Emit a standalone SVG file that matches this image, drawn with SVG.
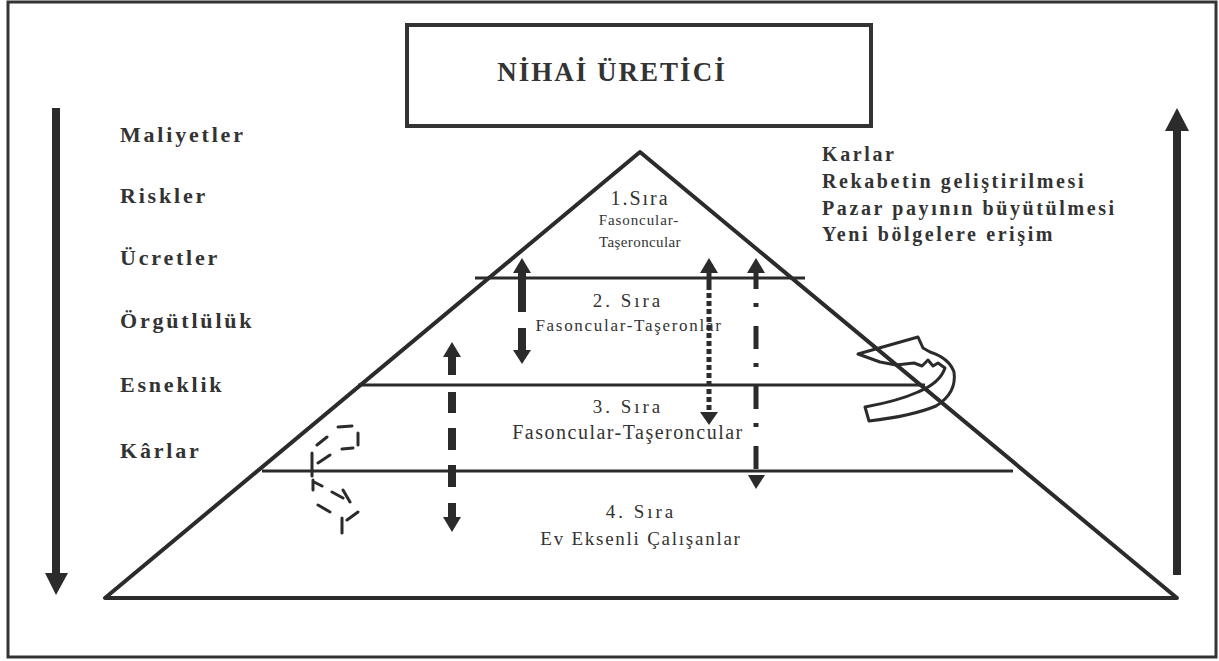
<svg xmlns="http://www.w3.org/2000/svg" width="1219" height="661" viewBox="0 0 1219 661">
<style>
.frame{fill:none;stroke:#333;stroke-width:3}
.ln{fill:none;stroke:#2b2b2b;stroke-width:4;stroke-linecap:round;stroke-linejoin:round}
.tier{fill:none;stroke:#2b2b2b;stroke-width:3}
.head{fill:#2b2b2b}
.lbl{font-family:"Liberation Serif","Times New Roman",serif;font-weight:bold;font-size:22px;letter-spacing:2.8px;fill:#333}
.rlbl{font-family:"Liberation Serif","Times New Roman",serif;font-weight:bold;font-size:20px;letter-spacing:2.6px;fill:#333}
.t{font-family:"Liberation Serif","Times New Roman",serif;fill:#333;text-anchor:middle}
.hand{fill:none;stroke:#2b2b2b;stroke-width:3;stroke-linecap:round;stroke-linejoin:round}
</style>
<rect x="0" y="0" width="1219" height="661" fill="#fff"/>
<rect class="frame" x="8" y="2" width="1208" height="655"/>

<g id="title">
<rect x="407" y="25" width="464" height="101" fill="#fff" stroke="#333" stroke-width="4"/>
<text x="612" y="81" text-anchor="middle" font-family="Liberation Serif, Times New Roman, serif" font-weight="bold" font-size="27" letter-spacing="2" fill="#333">NİHAİ ÜRETİCİ</text>
</g>

<g id="left-labels">
<text class="lbl" x="120" y="142">Maliyetler</text>
<text class="lbl" x="120" y="203">Riskler</text>
<text class="lbl" x="120" y="265">Ücretler</text>
<text class="lbl" x="120" y="328">Örgütlülük</text>
<text class="lbl" x="120" y="392">Esneklik</text>
<text class="lbl" x="120" y="458">Kârlar</text>
</g>

<g id="right-labels">
<text class="rlbl" x="822" y="161">Karlar</text>
<text class="rlbl" x="822" y="188">Rekabetin geliştirilmesi</text>
<text class="rlbl" x="822" y="215">Pazar payının büyütülmesi</text>
<text class="rlbl" x="822" y="241">Yeni bölgelere erişim</text>
</g>

<g id="pyramid">
<polygon class="ln" points="640,152 105,598 1177,598"/>
<line class="tier" x1="475" y1="278" x2="805" y2="278"/>
<line class="tier" x1="358" y1="385" x2="925" y2="385"/>
<line class="tier" x1="262" y1="471" x2="1013" y2="471"/>
</g>

<g id="tier1">
<text class="t" x="640" y="205" font-size="20" letter-spacing="2">1.Sıra</text>
<text class="t" x="639" y="225" font-size="15" letter-spacing="0.9">Fasoncular-</text>
<text class="t" x="640" y="247" font-size="15" letter-spacing="0.4">Taşeroncular</text>
</g>
<g id="tier2">
<text class="t" x="628" y="307" font-size="19" letter-spacing="3">2. Sıra</text>
<text class="t" x="629" y="331" font-size="17" letter-spacing="1.7">Fasoncular-Taşeronlar</text>
</g>
<g id="tier3">
<text class="t" x="628" y="413" font-size="19" letter-spacing="3">3. Sıra</text>
<text class="t" x="628" y="439" font-size="20" letter-spacing="1.5">Fasoncular-Taşeroncular</text>
</g>
<g id="tier4">
<text class="t" x="641" y="518" font-size="19" letter-spacing="3">4. Sıra</text>
<text class="t" x="641" y="545" font-size="19" letter-spacing="1.75">Ev Eksenli Çalışanlar</text>
</g>

<g id="connectors">
<!-- left big arrow -->
<rect class="head" x="52" y="108" width="8" height="467"/>
<polygon class="head" points="45,573 68,573 56,595"/>
<!-- right big arrow -->
<rect class="head" x="1173" y="129" width="8" height="446"/>
<polygon class="head" points="1165,131 1189,131 1177,108"/>
<!-- arrow A solid split -->
<polygon class="head" points="513,273 531,273 522,258"/>
<rect class="head" x="518" y="272" width="8" height="40"/>
<rect class="head" x="518" y="328" width="8" height="23"/>
<polygon class="head" points="513,350 531,350 522,364"/>
<!-- arrow B dotted -->
<polygon class="head" points="700,273 718,273 709,258"/>
<line x1="709" y1="272" x2="709" y2="290" stroke="#2b2b2b" stroke-width="5"/>
<line x1="709" y1="293" x2="709" y2="413" stroke="#2b2b2b" stroke-width="5" stroke-dasharray="5 3"/>
<polygon class="head" points="700,412 718,412 709,425"/>
<!-- arrow C dash-dot -->
<polygon class="head" points="747,273 765,273 756,258"/>
<line x1="756" y1="272" x2="756" y2="476" stroke="#2b2b2b" stroke-width="5" stroke-dasharray="23 14 4 19" stroke-dashoffset="6"/>
<polygon class="head" points="748,475 765,475 756,489"/>
<!-- arrow D dashed -->
<polygon class="head" points="443,357 461,357 452,342"/>
<path d="M452,356V375 M452,392V413 M452,428V450 M452,465V487 M452,503V518" stroke="#2b2b2b" stroke-width="8" fill="none"/>
<polygon class="head" points="443,517 461,517 452,532"/>
<!-- curly arrow right -->
<path class="hand" d="M858,354 L918,337 L923,348 L930,352 Q949,358 954,372 Q957,393 936,406 Q912,416 869,421 L865,407 Q898,401 918,392 Q940,383 945,368 L938,363 L933,366 L928,360 L922,366 L914,363 L896,365 L880,362 Z"/>
<!-- dashed curl left -->
<path class="hand" d="M338,427 L352,426 M358,433 L358,445 M342,449 L353,448 M317,445 L327,437 M318,463 L330,455 M312,453 L312,476 M313,480 L313,490 M314,482 L322,486 M332,492 L343,498 M343,490 L350,502 M318,505 L330,512 M347,520 L358,512 M342,518 L342,533"/>
</g>
</svg>
